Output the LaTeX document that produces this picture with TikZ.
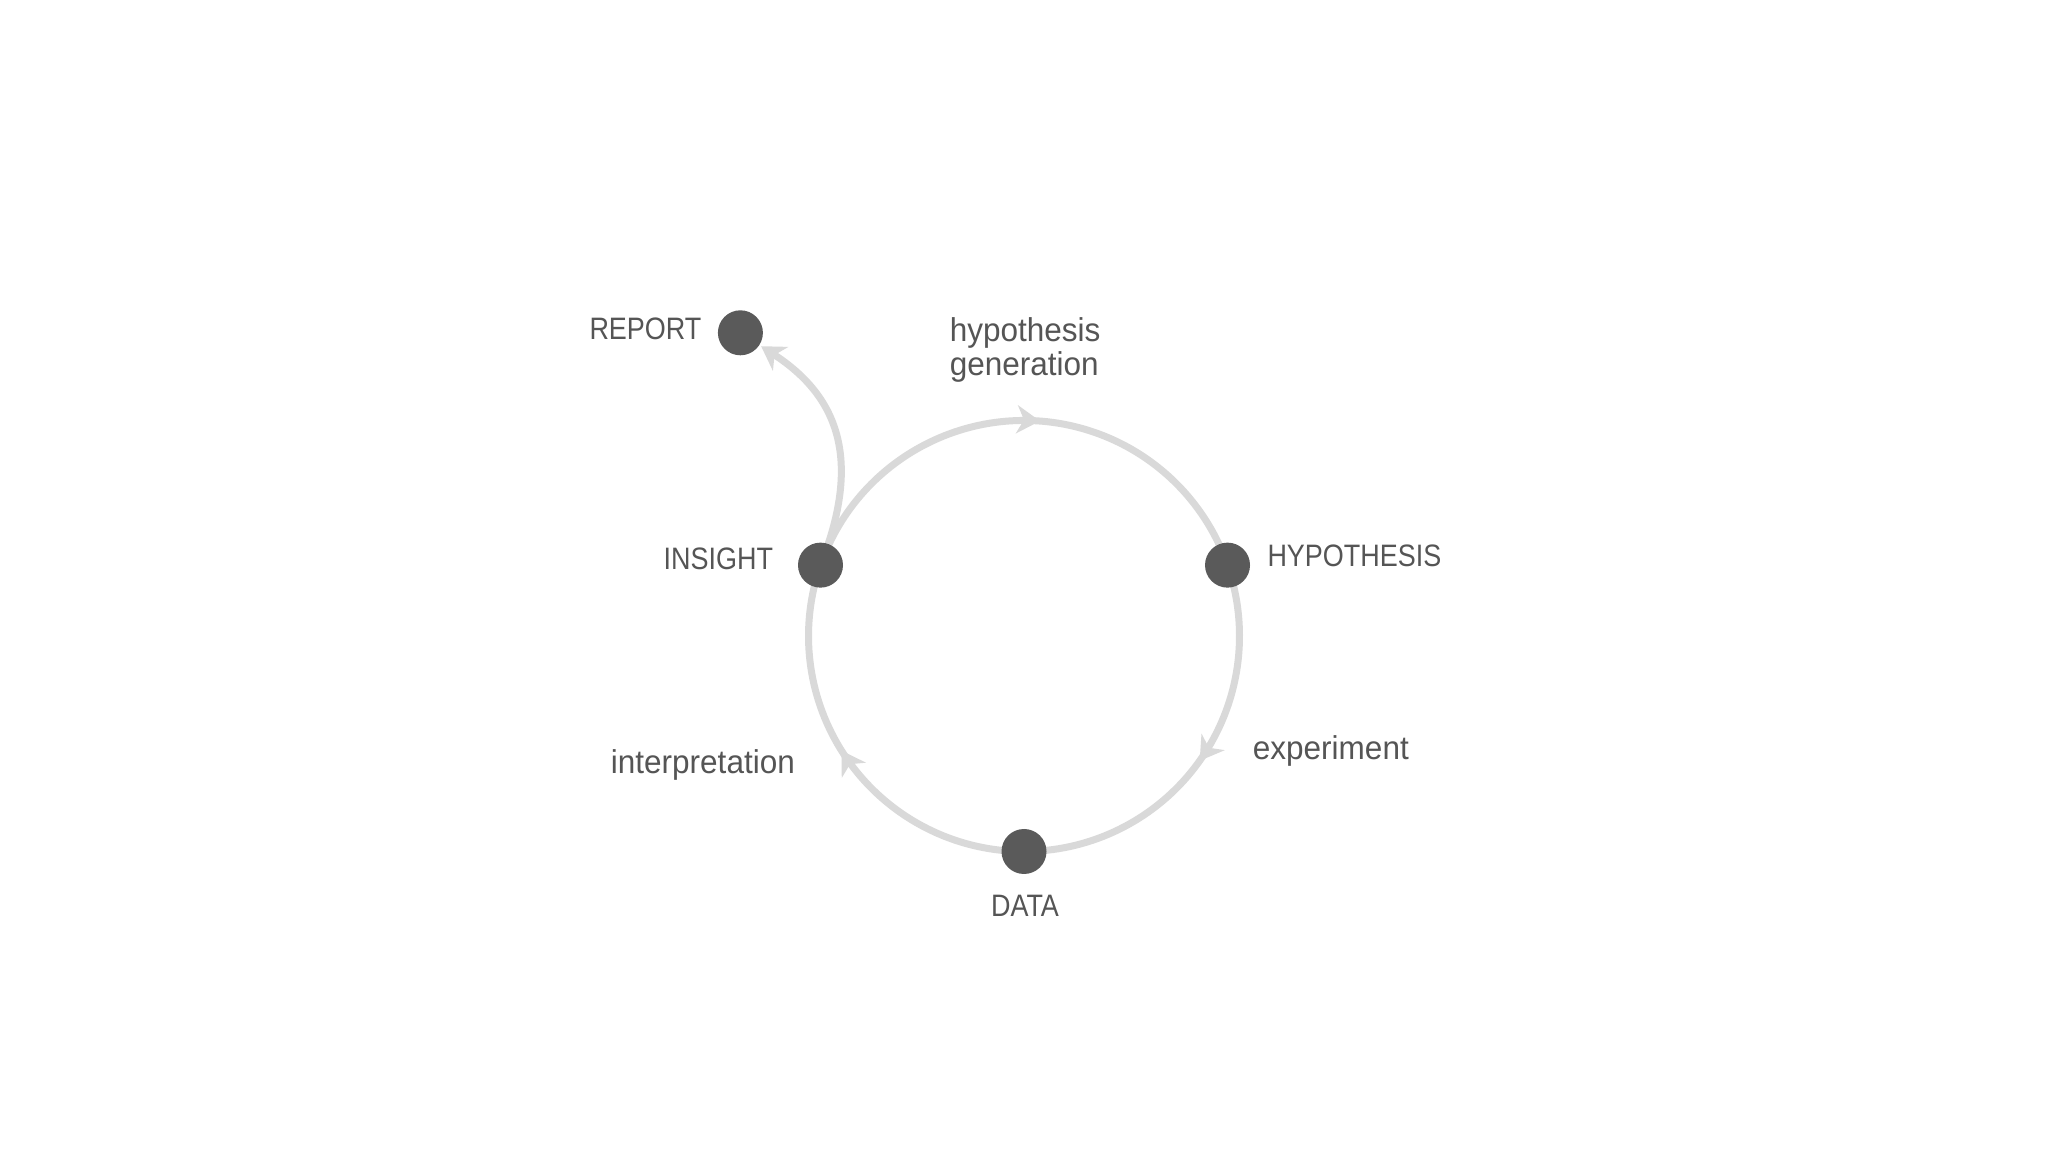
\documentclass[tikz,border=0pt]{standalone}
\usepackage{fontspec}
\newfontfamily\lowfont[FakeStretch=0.955]{Liberation Sans}
\newfontfamily\capfont[FakeStretch=0.87]{Liberation Sans}
\usetikzlibrary{arrows.meta,decorations.markings,backgrounds,calc}
\definecolor{dotgray}{HTML}{5A5A5A}
\definecolor{linegray}{HTML}{D9D9D9}
\definecolor{textgray}{HTML}{555555}
\tikzset{
  dot/.style={circle, fill=dotgray, inner sep=0pt, minimum size=45pt},
  cyc/.style={draw=linegray, line width=7pt},
  midarrow/.style={postaction={decorate}, decoration={markings,
     mark=at position #1 with {\arrow[linegray]{Stealth[length=23pt, width=28pt, inset=7pt]}}}},
  lowlbl/.style={text=textgray, inner sep=0pt, font=\lowfont\fontsize{33}{34}\selectfont},
  caplbl/.style={text=textgray, inner sep=0pt, font=\capfont\fontsize{31}{34}\selectfont},
}
\begin{document}
\begin{tikzpicture}[x=1pt,y=1pt]
\useasboundingbox (0,0) rectangle (2048,1152);
\coordinate (c) at (1024,516);
\node[dot] (insight) at ($(c)+(160.8:215.5)$) {};
\node[dot] (hyp) at ($(c)+(19.2:215.5)$) {};
\node[dot] (data) at ($(c)+(270:215.5)$) {};
\node[dot] (report) at (740.4,819.2) {};
\coordinate (rc1) at (861,689);
\coordinate (rc2) at (841,754);
\begin{scope}[on background layer]
\fill[white] (0,0) rectangle (2048,1152);
\draw[cyc, midarrow=0.53] (insight.center) arc[start angle=160.8, end angle=19.2, radius=215.5];
\draw[cyc, midarrow=0.50] (hyp.center) arc[start angle=19.2, end angle=-90, radius=215.5];
\draw[cyc, midarrow=0.53] (data.center) arc[start angle=270, end angle=160.8, radius=215.5];
\draw[cyc, -{Stealth[length=23pt, width=28pt, inset=7pt]}, shorten >=2pt] (insight.center) .. controls (rc1) and (rc2) .. (report);
\end{scope}
\node[caplbl, anchor=base east] (treport) at (701.6,812.7) {REPORT};
\node[caplbl, anchor=base east] (tinsight) at (773.2,582.7) {INSIGHT};
\node[caplbl, anchor=base west] (thyp) at (1267.3,585.3) {HYPOTHESIS};
\node[caplbl, anchor=base] (tdata) at (1025,235.3) {DATA};
\node[lowlbl, anchor=north west, align=left] (tgen) at (949.6,834.6) {hypothesis\\generation};
\node[lowlbl, anchor=base west] (texp) at (1252.7,392) {experiment};
\node[lowlbl, anchor=base west] (tinterp) at (610.7,378.7) {interpretation};
\end{tikzpicture}
\end{document}
